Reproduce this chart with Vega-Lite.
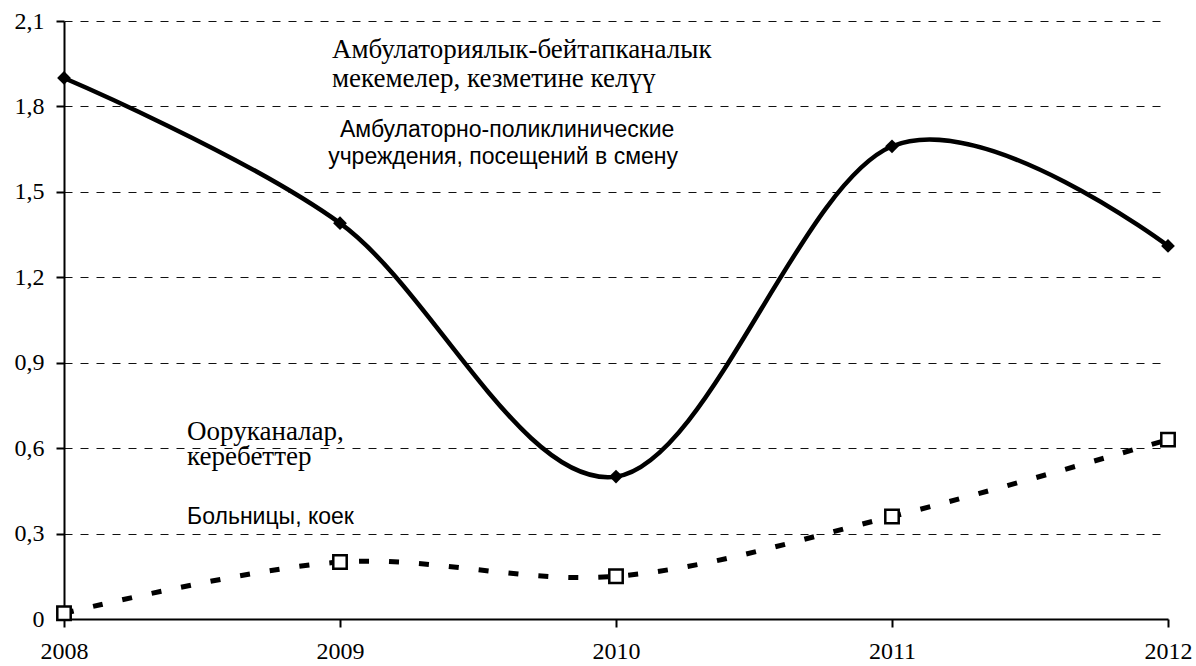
{
  "$schema": "https://vega.github.io/schema/vega-lite/v6.json",
  "width": 1104,
  "height": 598,
  "autosize": {"type": "none"},
  "padding": {"left": 64, "top": 21, "right": 28, "bottom": 47},
  "background": "white",
  "config": {"view": {"stroke": null}},
  "datasets": {
    "series": [
      {"year": 2008, "value": 1.9, "series": "amb"},
      {"year": 2009, "value": 1.39, "series": "amb"},
      {"year": 2010, "value": 0.5, "series": "amb"},
      {"year": 2011, "value": 1.66, "series": "amb"},
      {"year": 2012, "value": 1.31, "series": "amb"},
      {"year": 2008, "value": 0.02, "series": "hosp"},
      {"year": 2009, "value": 0.2, "series": "hosp"},
      {"year": 2010, "value": 0.15, "series": "hosp"},
      {"year": 2011, "value": 0.36, "series": "hosp"},
      {"year": 2012, "value": 0.63, "series": "hosp"}
    ],
    "labels": [
      {"year": 2008.971, "value": 1.97, "lang": "ky", "text": "Амбулаториялык-бейтапканалык"},
      {"year": 2008.971, "value": 1.868, "lang": "ky", "text": "мекемелер, кезметине келүү"},
      {"year": 2009.0, "value": 1.693, "lang": "ru", "text": "Амбулаторно-поликлинические"},
      {"year": 2008.957, "value": 1.598, "lang": "ru", "text": "учреждения, посещений в смену"},
      {"year": 2008.446, "value": 0.629, "lang": "ky", "text": "Ооруканалар,"},
      {"year": 2008.446, "value": 0.541, "lang": "ky", "text": "керебеттер"},
      {"year": 2008.446, "value": 0.334, "lang": "ru", "text": "Больницы, коек"}
    ]
  },
  "layer": [
    {
      "data": {"name": "series"},
      "transform": [{"filter": "datum.series == 'amb'"}],
      "mark": {"type": "line", "interpolate": "cardinal", "stroke": "black", "strokeWidth": 4.5},
      "encoding": {
        "x": {
          "field": "year", "type": "quantitative",
          "scale": {"domain": [2008, 2012], "nice": false, "zero": false},
          "axis": {
            "title": null, "values": [2008, 2009, 2010, 2011, 2012], "format": "d", "grid": false,
            "domainColor": "black", "domainWidth": 2, "tickColor": "black", "tickWidth": 2, "tickSize": 8,
            "labelFont": "Liberation Serif", "labelFontSize": 24, "labelColor": "black", "labelPadding": 12,
            "labelFlush": false, "labelOverlap": false
          }
        },
        "y": {
          "field": "value", "type": "quantitative",
          "scale": {"domain": [0, 2.1], "nice": false},
          "axis": {
            "title": null, "values": [0, 0.3, 0.6, 0.9, 1.2, 1.5, 1.8, 2.1],
            "labelExpr": "datum.value == 0 ? '0' : replace(format(datum.value, '.1f'), '.', ',')",
            "grid": true, "gridDash": [8, 8], "gridColor": "#111", "gridWidth": 1,
            "domainColor": "black", "domainWidth": 2, "tickColor": "black", "tickWidth": 2, "tickSize": 8,
            "labelFont": "Liberation Serif", "labelFontSize": 24, "labelColor": "black", "labelPadding": 12,
            "labelFlush": false, "labelOverlap": false
          }
        }
      }
    },
    {
      "data": {"name": "series"},
      "transform": [{"filter": "datum.series == 'hosp'"}],
      "mark": {"type": "line", "interpolate": "cardinal", "stroke": "black", "strokeWidth": 5, "strokeDash": [10, 20]},
      "encoding": {
        "x": {"field": "year", "type": "quantitative"},
        "y": {"field": "value", "type": "quantitative"}
      }
    },
    {
      "data": {"name": "series"},
      "transform": [{"filter": "datum.series == 'amb'"}],
      "mark": {"type": "point", "shape": "diamond", "filled": true, "color": "black", "size": 190, "opacity": 1},
      "encoding": {
        "x": {"field": "year", "type": "quantitative"},
        "y": {"field": "value", "type": "quantitative"}
      }
    },
    {
      "data": {"name": "series"},
      "transform": [{"filter": "datum.series == 'hosp'"}],
      "mark": {"type": "point", "shape": "square", "filled": true, "fill": "white", "stroke": "black", "strokeWidth": 2.5, "size": 180, "opacity": 1},
      "encoding": {
        "x": {"field": "year", "type": "quantitative"},
        "y": {"field": "value", "type": "quantitative"}
      }
    },
    {
      "data": {"name": "labels"},
      "transform": [{"filter": "datum.lang == 'ky'"}],
      "mark": {"type": "text", "align": "left", "baseline": "alphabetic", "font": "Liberation Serif", "fontSize": 27, "color": "black"},
      "encoding": {
        "x": {"field": "year", "type": "quantitative"},
        "y": {"field": "value", "type": "quantitative"},
        "text": {"field": "text"}
      }
    },
    {
      "data": {"name": "labels"},
      "transform": [{"filter": "datum.lang == 'ru'"}],
      "mark": {"type": "text", "align": "left", "baseline": "alphabetic", "font": "Liberation Sans", "fontSize": 23, "color": "black"},
      "encoding": {
        "x": {"field": "year", "type": "quantitative"},
        "y": {"field": "value", "type": "quantitative"},
        "text": {"field": "text"}
      }
    }
  ]
}
